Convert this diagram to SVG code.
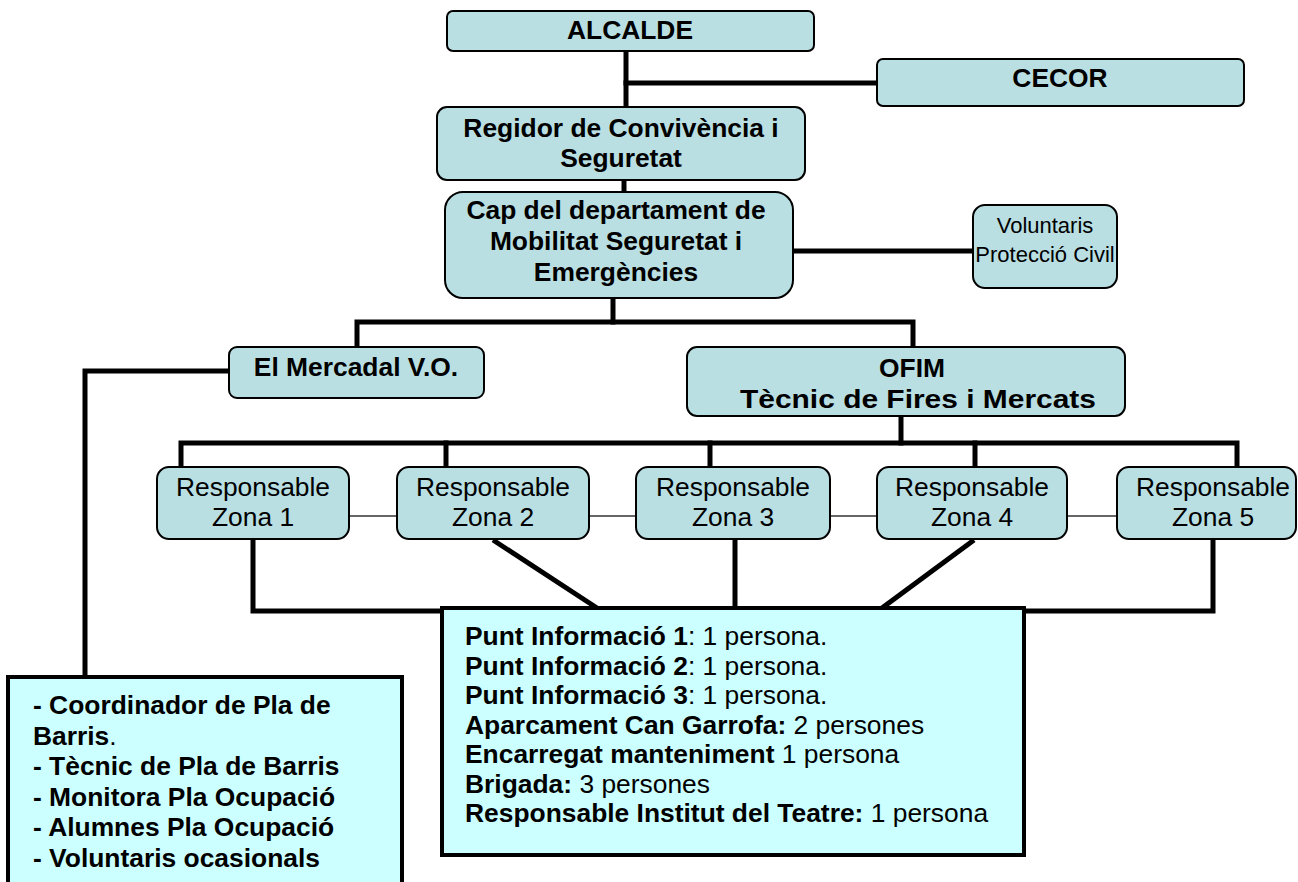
<svg xmlns="http://www.w3.org/2000/svg" width="1298" height="882" viewBox="0 0 1298 882">
<style>
text{font-family:"Liberation Sans",Arial,sans-serif;font-size:26.4px;fill:#000}
.b{font-weight:bold}
.c{text-anchor:middle}
.node{fill:#B9DFE3;stroke:#000;stroke-width:2}
.big{fill:#CCFFFF;stroke:#000;stroke-width:4}
.thick{stroke:#000;stroke-width:5;fill:none;stroke-linecap:square}
.thin{stroke:#333;stroke-width:1.5;fill:none}
</style>
<rect width="1298" height="882" fill="#fff"/>
<g id="connectors">
<polyline class="thick" points="626,51 626,107"/>
<polyline class="thick" points="626,83 877,83"/>
<polyline class="thick" points="624,180 624,192"/>
<polyline class="thick" points="793,251 973,251"/>
<polyline class="thick" points="613,298 613,322"/>
<polyline class="thick" points="357,347 357,322 913,322 913,347"/>
<polyline class="thick" points="229,371 85,371 85,677"/>
<polyline class="thick" points="901,416 901,443"/>
<polyline class="thick" points="181,467 181,443 1237,443 1237,467"/>
<polyline class="thick" points="446,443 446,467"/>
<polyline class="thick" points="710,443 710,467"/>
<polyline class="thick" points="975,443 975,467"/>
<polyline class="thin" points="349,516 397,516"/>
<polyline class="thin" points="589,516 636,516"/>
<polyline class="thin" points="830,516 877,516"/>
<polyline class="thin" points="1067,516 1117,516"/>
<polyline class="thick" points="253,539 253,611 442,611"/>
<polyline class="thick" points="1213,539 1213,611 1024,611"/>
<polyline class="thick" points="735,539 735,608"/>
<line class="thick" x1="493" y1="540" x2="597" y2="608" style="stroke-linecap:butt"/>
<line class="thick" x1="974" y1="540" x2="882" y2="608" style="stroke-linecap:butt"/>
</g>
<g id="alcalde"><rect class="node" x="447" y="11" width="367" height="40" rx="6"/><text class="b c" x="630" y="39">ALCALDE</text></g>
<g id="cecor"><rect class="node" x="877" y="59" width="367" height="47" rx="6"/><text class="b c" x="1060" y="87">CECOR</text></g>
<g id="regidor"><rect class="node" x="437" y="107" width="368" height="73" rx="10"/><text class="b c" x="621" y="137">Regidor de Convivència i</text><text class="b c" x="621" y="167">Seguretat</text></g>
<g id="cap"><rect class="node" x="445" y="192" width="348" height="106" rx="18"/><text class="b c" x="616" y="219">Cap del departament de</text><text class="b c" x="616" y="250">Mobilitat Seguretat i</text><text class="b c" x="616" y="281">Emergències</text></g>
<g id="voluntaris"><rect class="node" x="973" y="205" width="144" height="83" rx="12"/><text class="c" x="1045" y="233" style="font-size:22px">Voluntaris</text><text class="c" x="1045" y="262" style="font-size:22px">Protecció Civil</text></g>
<g id="mercadal"><rect class="node" x="229" y="347" width="255" height="51" rx="8"/><text class="b c" x="356" y="376">El Mercadal V.O.</text></g>
<g id="ofim"><rect class="node" x="687" y="347" width="438" height="69" rx="10"/><text class="b c" x="912" y="377">OFIM</text><text class="b c" x="918" y="408" textLength="356" lengthAdjust="spacingAndGlyphs">Tècnic de Fires i Mercats</text></g>
<g id="zona1"><rect class="node" x="157" y="467" width="192" height="72" rx="12"/><text class="c" x="253" y="496">Responsable</text><text class="c" x="253" y="526">Zona 1</text></g>
<g id="zona2"><rect class="node" x="397" y="467" width="192" height="72" rx="12"/><text class="c" x="493" y="496">Responsable</text><text class="c" x="493" y="526">Zona 2</text></g>
<g id="zona3"><rect class="node" x="636" y="467" width="194" height="72" rx="12"/><text class="c" x="733" y="496">Responsable</text><text class="c" x="733" y="526">Zona 3</text></g>
<g id="zona4"><rect class="node" x="877" y="467" width="190" height="72" rx="12"/><text class="c" x="972" y="496">Responsable</text><text class="c" x="972" y="526">Zona 4</text></g>
<g id="zona5"><rect class="node" x="1117" y="467" width="179" height="72" rx="12"/><text class="c" x="1213" y="496">Responsable</text><text class="c" x="1213" y="526">Zona 5</text></g>
<g id="punts"><rect class="big" x="442" y="608" width="582" height="247"/>
<text x="465" y="645"><tspan class="b">Punt Informació 1</tspan>: 1 persona.</text>
<text x="465" y="674.5"><tspan class="b">Punt Informació 2</tspan>: 1 persona.</text>
<text x="465" y="704"><tspan class="b">Punt Informació 3</tspan>: 1 persona.</text>
<text x="465" y="733.5"><tspan class="b">Aparcament Can Garrofa:</tspan> 2 persones</text>
<text x="465" y="763"><tspan class="b">Encarregat manteniment</tspan> 1 persona</text>
<text x="465" y="792.5"><tspan class="b">Brigada:</tspan> 3 persones</text>
<text x="465" y="822"><tspan class="b">Responsable Institut del Teatre:</tspan> 1 persona</text>
</g>
<g id="barris"><rect class="big" x="8" y="677" width="394" height="220"/>
<text x="33" y="714" class="b">- Coordinador de Pla de</text>
<text x="33" y="744.6"><tspan class="b">Barris</tspan>.</text>
<text x="33" y="775.2" class="b">- Tècnic de Pla de Barris</text>
<text x="33" y="805.8" class="b">- Monitora Pla Ocupació</text>
<text x="33" y="836.4" class="b">- Alumnes Pla Ocupació</text>
<text x="33" y="867" class="b">- Voluntaris ocasionals</text>
</g>
</svg>
